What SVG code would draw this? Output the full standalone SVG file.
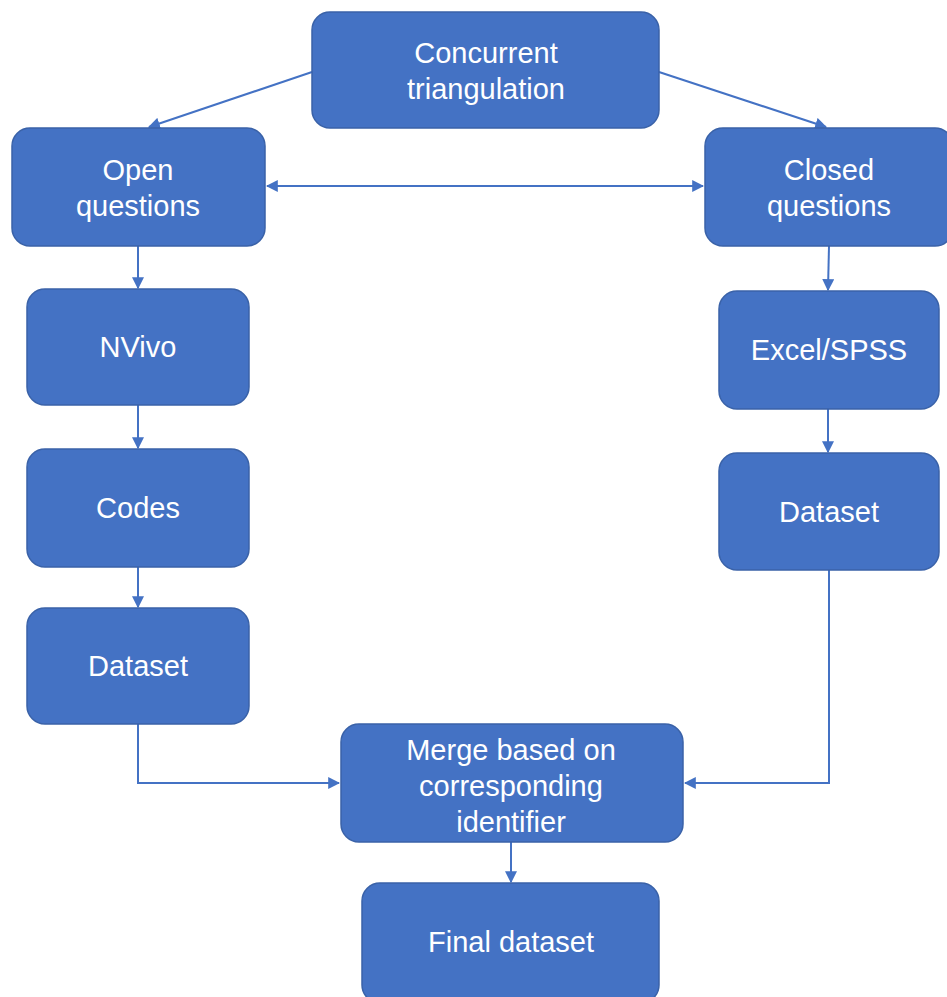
<svg xmlns="http://www.w3.org/2000/svg" width="947" height="997" viewBox="0 0 947 997">
  <style>
    .box { fill: #4472C4; stroke: #3A62A8; stroke-width: 1.5; }
    .lbl { fill: #FFFFFF; font-family: "Liberation Sans", Arial, sans-serif; font-size: 29px; text-anchor: middle; }
    .conn { fill: none; stroke: #4472C4; stroke-width: 2; }
  </style>
  <defs>
    <marker id="arrow" viewBox="0 0 10 10" refX="9" refY="5" markerWidth="6" markerHeight="6" orient="auto-start-reverse" markerUnits="strokeWidth">
      <path d="M0,0 L10,5 L0,10 z" fill="#4472C4"/>
    </marker>
  </defs>
  <rect width="947" height="997" fill="#FFFFFF"/>

  <g id="connectors">
    <line class="conn" x1="312" y1="72" x2="149" y2="127" marker-end="url(#arrow)"/>
    <line class="conn" x1="659" y1="72" x2="826" y2="127" marker-end="url(#arrow)"/>
    <line class="conn" x1="267" y1="186" x2="703" y2="186" marker-start="url(#arrow)" marker-end="url(#arrow)"/>
    <line class="conn" x1="138" y1="246" x2="138" y2="288" marker-end="url(#arrow)"/>
    <line class="conn" x1="138" y1="405" x2="138" y2="448" marker-end="url(#arrow)"/>
    <line class="conn" x1="138" y1="567" x2="138" y2="607" marker-end="url(#arrow)"/>
    <line class="conn" x1="829" y1="246" x2="828" y2="290" marker-end="url(#arrow)"/>
    <line class="conn" x1="828" y1="409" x2="828" y2="452" marker-end="url(#arrow)"/>
    <polyline class="conn" points="138,724 138,783 339,783" marker-end="url(#arrow)"/>
    <polyline class="conn" points="829,570 829,783 685,783" marker-end="url(#arrow)"/>
    <line class="conn" x1="511" y1="842" x2="511" y2="882" marker-end="url(#arrow)"/>
  </g>

  <g id="concurrent">
    <rect class="box" x="312" y="12" width="347" height="116" rx="18"/>
    <text class="lbl" x="486" y="63">Concurrent</text>
    <text class="lbl" x="486" y="99">triangulation</text>
  </g>
  <g id="open">
    <rect class="box" x="12" y="128" width="253" height="118" rx="18"/>
    <text class="lbl" x="138" y="180">Open</text>
    <text class="lbl" x="138" y="216">questions</text>
  </g>
  <g id="closed">
    <rect class="box" x="705" y="128" width="248" height="118" rx="18"/>
    <text class="lbl" x="829" y="180">Closed</text>
    <text class="lbl" x="829" y="216">questions</text>
  </g>
  <g id="nvivo">
    <rect class="box" x="27" y="289" width="222" height="116" rx="18"/>
    <text class="lbl" x="138" y="357">NVivo</text>
  </g>
  <g id="codes">
    <rect class="box" x="27" y="449" width="222" height="118" rx="18"/>
    <text class="lbl" x="138" y="518">Codes</text>
  </g>
  <g id="dataset-open">
    <rect class="box" x="27" y="608" width="222" height="116" rx="18"/>
    <text class="lbl" x="138" y="676">Dataset</text>
  </g>
  <g id="excel">
    <rect class="box" x="719" y="291" width="220" height="118" rx="18"/>
    <text class="lbl" x="829" y="360">Excel/SPSS</text>
  </g>
  <g id="dataset-closed">
    <rect class="box" x="719" y="453" width="220" height="117" rx="18"/>
    <text class="lbl" x="829" y="522">Dataset</text>
  </g>
  <g id="merge">
    <rect class="box" x="341" y="724" width="342" height="118" rx="18"/>
    <text class="lbl" x="511" y="760">Merge based on</text>
    <text class="lbl" x="511" y="796">corresponding</text>
    <text class="lbl" x="511" y="832">identifier</text>
  </g>
  <g id="final">
    <rect class="box" x="362" y="883" width="297" height="120" rx="18"/>
    <text class="lbl" x="511" y="952">Final dataset</text>
  </g>
</svg>
